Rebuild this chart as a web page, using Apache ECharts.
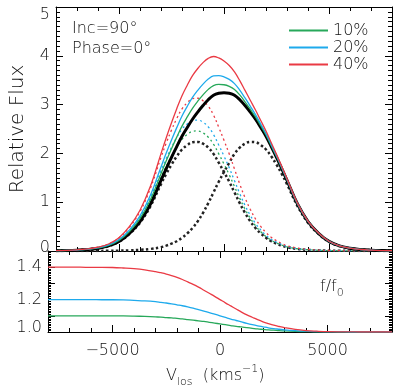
<!DOCTYPE html>
<html>
<head>
<meta charset="utf-8">
<script src="https://cdn.jsdelivr.net/npm/echarts@6/dist/echarts.min.js"></script>
<style>
  html, body { margin: 0; padding: 0; background: #fff; }
  #lineProfiles { width: 399px; height: 387px; }
</style>
</head>
<body>
<div id="lineProfiles"></div>
<script>
// line-of-sight velocity grid (km/s), finer near the line core
const velocity = [-8000, -7500, -7000, -6500, -6000, -5500, -5000, -4500, -4000, -3500, -3000,
  -2750, -2500, -2250, -2000, -1750, -1500, -1250, -1000, -750, -500, -250, 0, 250, 500, 750,
  1000, 1250, 1500, 1750, 2000, 2250, 2500, 2750,
  3000, 3500, 4000, 4500, 5000, 5500, 6000, 6500, 7000, 7500, 8000];

// black: two components and their sum
const compBlue = [0.005, 0.009, 0.017, 0.03, 0.055, 0.10, 0.19, 0.35, 0.58, 0.92, 1.37,
  1.58, 1.77, 1.94, 2.08, 2.17, 2.23, 2.236, 2.20, 2.12, 1.99, 1.81, 1.62, 1.42, 1.20, 0.98,
  0.78, 0.61, 0.47, 0.36, 0.27, 0.20, 0.15, 0.11,
  0.078, 0.042, 0.024, 0.013, 0.007, 0.004, 0.002, 0.001, 0, 0, 0];
const compRed = [0, 0, 0, 0.001, 0.002, 0.004, 0.007, 0.013, 0.024, 0.042, 0.078,
  0.11, 0.15, 0.20, 0.27, 0.36, 0.47, 0.61, 0.78, 0.98, 1.20, 1.42, 1.62, 1.81, 1.99, 2.12,
  2.20, 2.236, 2.23, 2.17, 2.08, 1.94, 1.77, 1.58,
  1.37, 0.92, 0.58, 0.35, 0.19, 0.10, 0.055, 0.03, 0.017, 0.009, 0.005];
const totalBase = [0.005, 0.009, 0.017, 0.031, 0.057, 0.104, 0.197, 0.363, 0.604, 0.962, 1.448,
  1.69, 1.92, 2.14, 2.35, 2.53, 2.70, 2.846, 2.98, 3.10, 3.19, 3.232, 3.245, 3.232, 3.19, 3.10,
  2.98, 2.846, 2.70, 2.53, 2.35, 2.14, 1.92, 1.69,
  1.448, 0.962, 0.604, 0.363, 0.197, 0.104, 0.057, 0.031, 0.017, 0.009, 0.005];

// boosted blue component (dotted)
const comp10 = [0.006, 0.010, 0.019, 0.033, 0.061, 0.11, 0.21, 0.385, 0.64, 1.01, 1.51,
  1.738, 1.947, 2.134, 2.288, 2.387, 2.453, 2.46, 2.42, 2.332, 2.189, 1.991, 1.782, 1.562, 1.32,
  1.078, 0.858, 0.671, 0.517, 0.396, 0.297, 0.22, 0.165, 0.121,
  0.086, 0.046, 0.026, 0.014, 0.008, 0.004, 0.002, 0.001, 0, 0, 0];
const comp20 = [0.006, 0.011, 0.020, 0.036, 0.066, 0.12, 0.23, 0.42, 0.70, 1.10, 1.64,
  1.896, 2.124, 2.328, 2.496, 2.604, 2.676, 2.683, 2.64, 2.544, 2.388, 2.172, 1.944, 1.704, 1.44,
  1.176, 0.936, 0.732, 0.564, 0.432, 0.324, 0.24, 0.18, 0.132,
  0.094, 0.050, 0.029, 0.016, 0.008, 0.005, 0.002, 0.001, 0, 0, 0];
const comp40 = [0.007, 0.013, 0.024, 0.042, 0.077, 0.14, 0.27, 0.49, 0.81, 1.29, 1.92,
  2.212, 2.478, 2.716, 2.912, 3.038, 3.122, 3.13, 3.08, 2.968, 2.786, 2.534, 2.268, 1.988, 1.68,
  1.372, 1.092, 0.854, 0.658, 0.504, 0.378, 0.28, 0.21, 0.154,
  0.109, 0.059, 0.034, 0.018, 0.010, 0.006, 0.003, 0.001, 0, 0, 0];

// total profiles (solid)
const total10 = [0.006, 0.010, 0.019, 0.034, 0.063, 0.114, 0.216, 0.398, 0.662, 1.054, 1.585,
  1.848, 2.097, 2.334, 2.558, 2.747, 2.923, 3.070, 3.20, 3.312, 3.389, 3.413, 3.407, 3.374,
  3.31, 3.198, 3.058, 2.907, 2.747, 2.566, 2.377, 2.16, 1.935, 1.701,
  1.456, 0.966, 0.606, 0.364, 0.198, 0.104, 0.057, 0.031, 0.017, 0.009, 0.005];
const total20 = [0.006, 0.011, 0.020, 0.037, 0.068, 0.124, 0.235, 0.433, 0.720, 1.146, 1.722,
  2.006, 2.274, 2.528, 2.766, 2.964, 3.146, 3.293, 3.42, 3.524, 3.588, 3.594, 3.569, 3.516,
  3.43, 3.296, 3.136, 2.968, 2.794, 2.602, 2.404, 2.18, 1.950, 1.712,
  1.464, 0.970, 0.609, 0.366, 0.198, 0.105, 0.057, 0.031, 0.017, 0.009, 0.005];
const total40 = [0.007, 0.013, 0.024, 0.043, 0.079, 0.144, 0.273, 0.503, 0.836, 1.330, 1.996,
  2.322, 2.628, 2.916, 3.182, 3.398, 3.592, 3.740, 3.86, 3.948, 3.986, 3.956, 3.893, 3.80,
  3.67, 3.492, 3.292, 3.090, 2.888, 2.674, 2.458, 2.22, 1.980, 1.734,
  1.479, 0.979, 0.614, 0.368, 0.200, 0.106, 0.058, 0.031, 0.017, 0.009, 0.005];

// lower panel: f/f0
const ratio10 = [1.100, 1.100, 1.100, 1.100, 1.100, 1.100, 1.099, 1.099, 1.098, 1.096, 1.093,
  1.092, 1.089, 1.087, 1.084, 1.081, 1.077, 1.073, 1.069, 1.065, 1.060, 1.055, 1.050, 1.045,
  1.040, 1.035, 1.031, 1.027, 1.023, 1.019, 1.016, 1.013, 1.011, 1.008,
  1.007, 1.004, 1.002, 1.001, 1.001, 1.000, 1.000, 1.000, 1.000, 1.000, 1.000];
const ratio20 = [1.200, 1.200, 1.200, 1.200, 1.200, 1.199, 1.199, 1.198, 1.195, 1.192, 1.187,
  1.183, 1.179, 1.174, 1.168, 1.162, 1.155, 1.147, 1.138, 1.129, 1.120, 1.110, 1.100, 1.090,
  1.080, 1.071, 1.062, 1.053, 1.045, 1.038, 1.032, 1.026, 1.021, 1.017,
  1.013, 1.008, 1.005, 1.002, 1.001, 1.001, 1.000, 1.000, 1.000, 1.000, 1.000];
const ratio40 = [1.400, 1.400, 1.400, 1.400, 1.399, 1.399, 1.398, 1.395, 1.391, 1.384, 1.373,
  1.366, 1.358, 1.348, 1.337, 1.324, 1.309, 1.294, 1.277, 1.258, 1.239, 1.220, 1.200, 1.180,
  1.161, 1.142, 1.123, 1.106, 1.091, 1.076, 1.063, 1.052, 1.042, 1.034,
  1.027, 1.016, 1.009, 1.005, 1.002, 1.001, 1.001, 1.000, 1.000, 1.000, 1.000];

const majorX = [-5000, 0, 5000];
const lowerLabels = ['1.0', '1.2', '1.4'];
const legendNames = ['10%', '20%', '40%'];

const FONT = 'DejaVu Sans';
const WEIGHT = 200;
const INK = '#111';
const GREEN = '#27a85a';
const BLUE = '#1eaaec';
const RED = '#ea3a44';

function pairs(ys) {
  return velocity.map((v, i) => [v, ys[i]]);
}

function xAx(grid, pos, major, labels) {
  return {
    type: 'value', gridIndex: grid, position: pos,
    min: -8000, max: 8000, interval: 1000,
    axisLine: {show: !major, onZero: false, lineStyle: {color: '#000', width: 1}},
    axisTick: major
      ? {inside: true, length: 7, customValues: majorX, lineStyle: {color: '#000'}}
      : {inside: true, length: 4, lineStyle: {color: '#000'}},
    axisLabel: labels
      ? {customValues: majorX, margin: 11, color: INK, fontFamily: FONT, fontWeight: WEIGHT,
         fontSize: 16, formatter: v => (v < 0 ? '\u2212' + (-v) : '' + v)}
      : {show: false},
    splitLine: {show: false}
  };
}

function yAx(grid, pos, lower, labels) {
  const lab = {fontFamily: FONT, fontWeight: WEIGHT, fontSize: 16, color: INK};
  return {
    type: 'value', gridIndex: grid, position: pos,
    min: lower ? 1.0 : 0, max: lower ? 1.5 : 5, interval: lower ? 0.1 : 1,
    axisLine: {show: true, onZero: false, lineStyle: {color: '#000', width: 1}},
    axisTick: {inside: true, length: 7, lineStyle: {color: '#000'}},
    minorTick: {show: true, splitNumber: 10, length: lower ? 3 : 4, lineStyle: {color: '#000'}},
    axisLabel: labels
      ? Object.assign({margin: 6,
         formatter: v => {
           if (!lower) {
             const n = Math.round(v);
             if (n === 5) return '{dn|5}';
             if (n === 0) return '{up|0}';
             return '' + n;
           }
           const s = v.toFixed(1);
           if (s === '1.0') return '{up2|1.0}';
           return lowerLabels.includes(s) ? s : '';
         },
         rich: {
           dn: Object.assign({padding: [16, 0, 0, 0]}, lab),
           up: Object.assign({padding: [0, 0, 7, 0]}, lab),
           up2: Object.assign({padding: [0, 0, 9, 0]}, lab)
         }}, lab)
      : {show: false},
    splitLine: {show: false},
    minorSplitLine: {show: false}
  };
}

function line(name, ys, color, width, dash, x, y, z) {
  return {
    name: name, type: 'line', xAxisIndex: x, yAxisIndex: y,
    data: pairs(ys), showSymbol: false, symbol: 'none', smooth: 0.4,
    itemStyle: {color: color},
    lineStyle: {color: color, width: width, type: dash || 'solid'},
    z: z, silent: true
  };
}

const chart = echarts.init(document.getElementById('lineProfiles'));

const topY = yAx(0, 'left', false, true);
topY.name = 'Relative Flux';
topY.nameLocation = 'middle';
topY.nameGap = 28;
topY.nameTextStyle = {fontFamily: FONT, fontWeight: WEIGHT, fontSize: 20, color: INK};

const txt = {fontFamily: FONT, fontWeight: WEIGHT, fontSize: 16, fill: INK};
const small = {fontFamily: FONT, fontWeight: WEIGHT, fontSize: 11, fill: INK};

chart.setOption({
  animation: false,
  backgroundColor: '#fff',
  grid: [
    {left: 48, right: 7, top: 7, height: 244},
    {left: 48, right: 7, top: 251, height: 81}
  ],
  xAxis: [
    xAx(0, 'bottom', false, false), xAx(0, 'bottom', true, false),
    xAx(0, 'top', false, false), xAx(0, 'top', true, false),
    xAx(1, 'bottom', false, false), xAx(1, 'bottom', true, true),
    xAx(1, 'top', false, false), xAx(1, 'top', true, false)
  ],
  yAxis: [
    topY, yAx(0, 'right', false, false),
    yAx(1, 'left', true, true), yAx(1, 'right', true, false)
  ],
  legend: {
    data: legendNames, orient: 'vertical', left: 289, top: 22, padding: 0,
    icon: 'rect', itemWidth: 39, itemHeight: 2, itemGap: 0,
    textStyle: {fontFamily: FONT, fontWeight: WEIGHT, fontSize: 16, color: INK, lineHeight: 17}
  },
  graphic: [
    {type: 'text', left: 72, top: 21, style: Object.assign({text: 'Inc=90\u00b0'}, txt)},
    {type: 'text', left: 72, top: 41, style: Object.assign({text: 'Phase=0\u00b0'}, txt)},
    {type: 'text', left: 320, top: 279, style: Object.assign({
      text: 'f/f{s|0}',
      rich: {s: Object.assign({verticalAlign: 'bottom', lineHeight: 24}, small)}
    }, txt)},
    {type: 'text', left: 166, top: 364, style: Object.assign({
      text: 'V{s|los}  (kms{p|\u22121})',
      rich: {
        s: Object.assign({verticalAlign: 'bottom', lineHeight: 24}, small),
        p: Object.assign({verticalAlign: 'top', lineHeight: 22}, small)
      }
    }, txt)}
  ],
  series: [
    line('c0', compBlue, '#222', 2.5, [2.5, 2.5], 0, 0, 2),
    line('c1', compRed, '#222', 2.5, [2.5, 2.5], 0, 0, 2),
    line('d10', comp10, GREEN, 1.3, [2, 3], 0, 0, 2),
    line('d20', comp20, BLUE, 1.3, [2, 3], 0, 0, 2),
    line('d40', comp40, RED, 1.3, [2, 3], 0, 0, 2),
    line('base', totalBase, '#000', 3, null, 0, 0, 3),
    line('10%', total10, GREEN, 1.3, null, 0, 0, 4),
    line('20%', total20, BLUE, 1.3, null, 0, 0, 4),
    line('40%', total40, RED, 1.3, null, 0, 0, 4),
    line('r10', ratio10, GREEN, 1.3, null, 4, 2, 4),
    line('r20', ratio20, BLUE, 1.3, null, 4, 2, 4),
    line('r40', ratio40, RED, 1.3, null, 4, 2, 4)
  ]
});
</script>
</body>
</html>
